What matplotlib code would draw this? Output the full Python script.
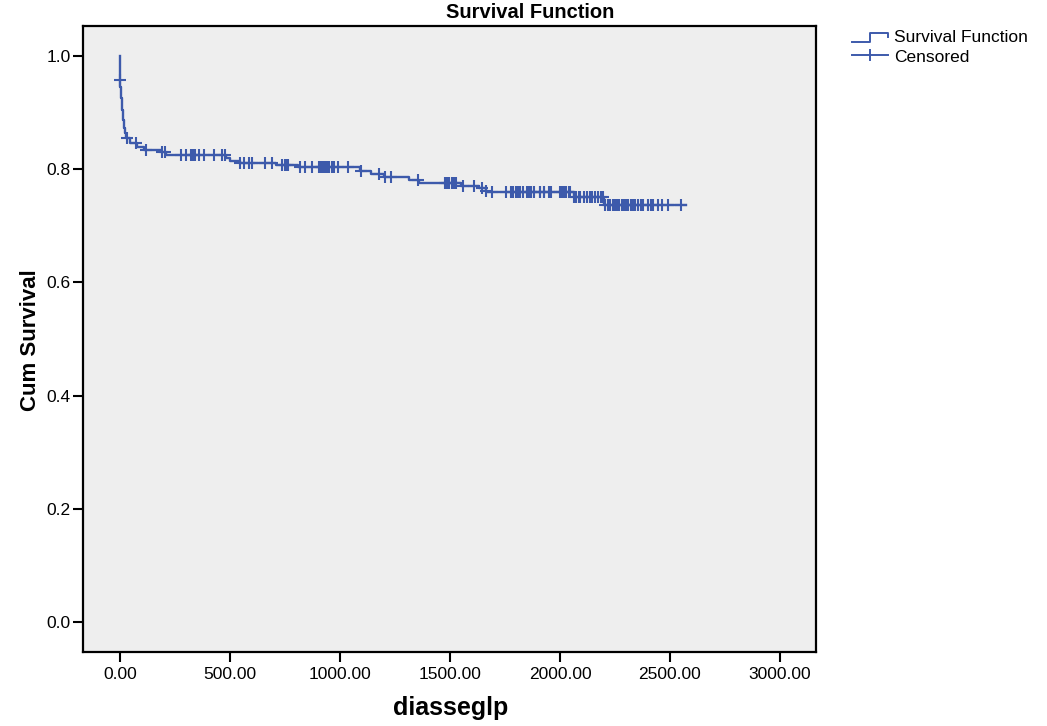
import numpy as np
import matplotlib
matplotlib.use("Agg")
import matplotlib.pyplot as plt
from matplotlib.lines import Line2D

plt.rcParams['font.family'] = ['Liberation Sans', 'DejaVu Sans']

# Step function: event times and survival after each step
event_times = [0, 0, 1, 3, 5, 7, 9, 11, 13, 15, 18, 21, 24, 45, 75, 110, 185, 210,
               480, 500, 545, 710, 810, 1089, 1142, 1199, 1315, 1360, 1549, 1632,
               1662, 1670, 2062, 2200]
survival = [1.0, 0.958, 0.945, 0.935, 0.925, 0.915, 0.905, 0.895, 0.887, 0.880,
            0.872, 0.864, 0.855, 0.846, 0.840, 0.834, 0.830, 0.825,
            0.819, 0.815, 0.811, 0.808, 0.803, 0.797, 0.792, 0.787, 0.781, 0.776,
            0.771, 0.766, 0.762, 0.759, 0.750, 0.737]
end_time = 2575

censored_times = [0, 30, 71, 116, 192, 204, 275, 297, 320, 327, 335, 342, 357, 380,
                  425, 463, 478, 546, 561, 584, 599, 659, 689, 735, 750, 757, 765,
                  818, 840, 870, 904, 911, 919, 926, 933, 941, 949, 961, 973, 988,
                  1036, 1096, 1175, 1202, 1232, 1353, 1477, 1486, 1496, 1507, 1519,
                  1526, 1560, 1609, 1643, 1662, 1692, 1753, 1775, 1787, 1798, 1809,
                  1820, 1833, 1851, 1858, 1866, 1869, 1881, 1908, 1911, 1926, 1929,
                  1949, 1959, 2001, 2009, 2017, 2028, 2039, 2047, 2062, 2074, 2085,
                  2092, 2110, 2122, 2137, 2145, 2160, 2171, 2186, 2195, 2205, 2216,
                  2228, 2240, 2250, 2261, 2270, 2281, 2291, 2300, 2311, 2321, 2330,
                  2341, 2356, 2367, 2379, 2401, 2412, 2424, 2447, 2462, 2492, 2552]

x_ticks = [0, 500, 1000, 1500, 2000, 2500, 3000]
y_ticks = [0.0, 0.2, 0.4, 0.6, 0.8, 1.0]

BLUE = '#3d5aab'
BG = '#eeeeee'

W, H = 1047, 726
fig = plt.figure(figsize=(W / 100, H / 100), dpi=100)
ax = fig.add_axes([83.3 / W, 1 - 652.3 / H, (816 - 83.3) / W, (652.3 - 25.7) / H])
ax.set_facecolor(BG)

t_arr = np.array(event_times + [end_time], dtype=float)
s_arr = np.array(survival + [survival[-1]], dtype=float)
ax.step(t_arr, s_arr, where='post', color=BLUE, lw=1.7, zorder=3)

c_t = np.array(censored_times, dtype=float)
idx = np.searchsorted(np.array(event_times, dtype=float), c_t, side='right') - 1
c_s = np.array(survival)[idx]
ax.plot(c_t, c_s, linestyle='none', marker='+', markersize=8, mew=1.5,
        color=BLUE, zorder=4)

ax.set_xlim(-168, 3164)
ax.set_ylim(-0.0535, 1.0535)
ax.set_xticks(x_ticks)
ax.set_xticklabels([f"{v:.2f}" for v in x_ticks])
ax.set_yticks(y_ticks)
ax.set_yticklabels([f"{v:.1f}" for v in y_ticks])
ax.tick_params(axis='x', length=7.2, width=1.5, pad=3.5, labelsize=12.5, colors='black')
ax.tick_params(axis='y', length=7.2, width=1.5, pad=2, labelsize=12.5, colors='black')
for sp in ax.spines.values():
    sp.set_linewidth(1.6)
    sp.set_color('black')

fig.text(30 / W, 1 - 340 / H, 'Cum Survival', rotation=90, fontsize=16,
         fontweight='bold', ha='center', va='center')
fig.text(451 / W, 1 - 708 / H, 'diasseglp', fontsize=18, fontweight='bold',
         ha='center', va='center')
fig.text(530 / W, 1 - 12 / H, 'Survival Function', fontsize=14.5,
         fontweight='bold', ha='center', va='center')

# Legend glyphs (pixel coordinates, y measured from top)
def px(x, y):
    return x / W, 1 - y / H

xs, ys = zip(*[px(852, 41.7), px(870, 41.7), px(870, 32.7), px(888, 32.7), px(888, 36.7)])
fig.add_artist(Line2D(xs, ys, color=BLUE, lw=1.4, transform=fig.transFigure))
xs, ys = zip(*[px(852, 55), px(888, 55)])
fig.add_artist(Line2D(xs, ys, color=BLUE, lw=1.4, transform=fig.transFigure))
xs, ys = zip(*[px(870, 50), px(870, 60)])
fig.add_artist(Line2D(xs, ys, color=BLUE, lw=1.4, transform=fig.transFigure))
fig.text(*px(894, 37.5), 'Survival Function', fontsize=12.5, ha='left', va='center')
fig.text(*px(894, 57.5), 'Censored', fontsize=12.5, ha='left', va='center')

fig.savefig('out.png', dpi=100, facecolor='white')
